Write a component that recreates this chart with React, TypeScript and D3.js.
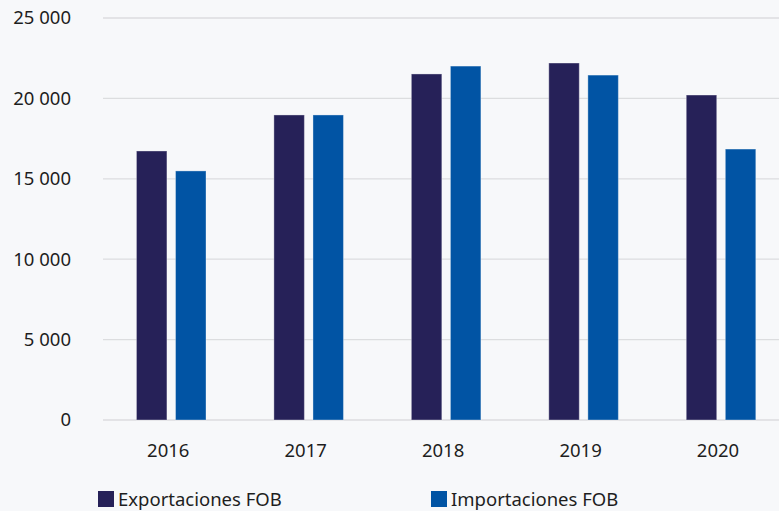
import React, { useEffect, useRef } from 'react';
import * as d3 from 'd3';

const years = ['2016', '2017', '2018', '2019', '2020'];
const seriesNames = ['Exportaciones FOB', 'Importaciones FOB'];
const exportaciones = [16730, 18970, 21520, 22200, 20210];
const importaciones = [15490, 18970, 22010, 21450, 16850];
const yTicks = [0, 5000, 10000, 15000, 20000, 25000];
const colors = ['#262158', '#0154a4'];

const W = 779;
const H = 511;

export default function App() {
    const svgRef = useRef<SVGSVGElement>(null);

    useEffect(() => {
        const svg = d3.select(svgRef.current);
        svg.selectAll('*').remove();

        const font = '"Noto Sans", "Open Sans", sans-serif';
        const fs = 18.5;

        svg.append('rect').attr('width', W).attr('height', H).attr('fill', '#f7f8fa');

        // escalas
        const x = d3.scaleBand().domain(years).range([102.5, 789.75]).paddingInner(0.494).paddingOuter(0.247);
        const xInner = d3.scaleBand().domain(seriesNames).range([0, x.bandwidth()]).paddingInner(0.22);
        const y = d3.scaleLinear().domain([0, 25000]).range([420, 18]);

        const fmt = (v: number) => d3.format(',')(v).replace(/,/g, ' ');

        // líneas de cuadrícula
        svg.append('g')
            .selectAll('line')
            .data(yTicks)
            .join('line')
            .attr('x1', 103)
            .attr('x2', W)
            .attr('y1', d => y(d))
            .attr('y2', d => y(d))
            .attr('stroke', '#dcdddf')
            .attr('stroke-width', 1.3);

        svg.append('g')
            .selectAll('text')
            .data(yTicks)
            .join('text')
            .attr('x', 71)
            .attr('y', d => y(d))
            .attr('dy', '0.35em')
            .attr('text-anchor', 'end')
            .attr('font-family', font)
            .attr('font-size', fs)
            .attr('fill', '#1e1e1e')
            .text(d => fmt(d));

        // barras
        const rows = years.map((yr, i) => ({ year: yr, values: [exportaciones[i], importaciones[i]] }));
        const groups = svg.append('g')
            .selectAll('g')
            .data(rows)
            .join('g')
            .attr('transform', d => `translate(${x(d.year)},0)`);

        groups.selectAll('rect')
            .data(d => d.values.map((v, j) => ({ v, name: seriesNames[j], j })))
            .join('rect')
            .attr('x', d => xInner(d.name)!)
            .attr('width', xInner.bandwidth())
            .attr('y', d => y(d.v))
            .attr('height', d => y(0) - y(d.v))
            .attr('fill', d => colors[d.j])
            .attr('stroke', 'rgba(255,255,255,0.35)')
            .attr('stroke-width', 1);

        // etiquetas del eje x
        svg.append('g')
            .selectAll('text')
            .data(years)
            .join('text')
            .attr('x', d => x(d)! + x.bandwidth() / 2 - 3)
            .attr('y', 451)
            .attr('dy', '0.35em')
            .attr('text-anchor', 'middle')
            .attr('font-family', font)
            .attr('font-size', fs)
            .attr('fill', '#1e1e1e')
            .text(d => d);

        // leyenda
        const legendX = [98, 431];
        const legend = svg.append('g')
            .selectAll('g')
            .data(seriesNames)
            .join('g')
            .attr('transform', (d, i) => `translate(${legendX[i]},491)`);

        legend.append('rect')
            .attr('width', 16)
            .attr('height', 16)
            .attr('fill', (d, i) => colors[i]);

        legend.append('text')
            .attr('x', 20)
            .attr('y', 8.5)
            .attr('dy', '0.35em')
            .attr('font-family', font)
            .attr('font-size', fs)
            .attr('fill', '#1e1e1e')
            .text(d => d);
    }, []);

    return (
        <svg
            ref={svgRef}
            width={W}
            height={H}
            style={{ position: 'absolute', left: 0, top: 0, display: 'block' }}
        />
    );
}
